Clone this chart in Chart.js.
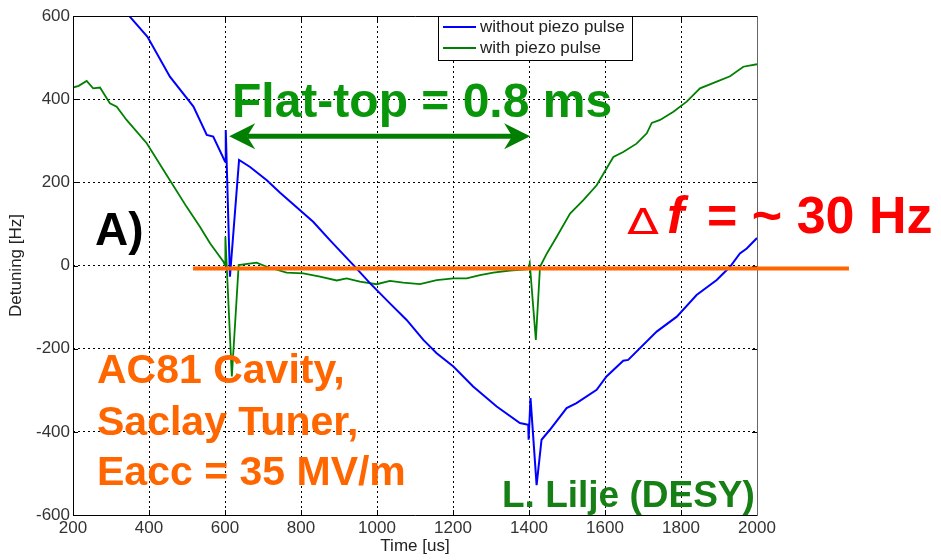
<!DOCTYPE html>
<html>
<head>
<meta charset="utf-8">
<script src="https://cdn.jsdelivr.net/npm/chart.js@4.4.0/dist/chart.umd.min.js"></script>
<style>
  html, body { margin: 0; padding: 0; background: #fff; }
  canvas { display: block; }
</style>
</head>
<body>
<canvas id="detuning" width="941" height="560"></canvas>
<script>
// detuning traces, time in us, detuning in Hz
const noPiezoT = [330, 348, 396, 455, 517, 552, 569, 600, 602, 613, 637, 666, 710, 745, 802, 832, 876, 938,
  982, 1034, 1078, 1122, 1157, 1201, 1253, 1315, 1376, 1398, 1399, 1404, 1420, 1433, 1455, 1499, 1525,
  1578, 1604, 1648, 1661, 1736, 1789, 1841, 1894, 1929, 1955, 1973, 2000]
const noPiezoHz = [630, 600, 550, 454, 382, 314, 310, 250, 326, -27, 254, 237, 205, 175, 129, 105, 61, 1,
  -43, -91, -131, -179, -211, -243, -291, -339, -379, -383, -419, -319, -528, -419, -395, -343, -331,
  -299, -267, -229, -227, -159, -123, -71, -35, -3, 29, 41, 66]

const piezoT = [200, 215, 236, 253, 271, 297, 315, 341, 394, 455, 499, 534, 561, 596, 600, 601, 618, 636,
  683, 710, 762, 806, 850, 894, 920, 955, 999, 1034, 1069, 1113, 1157, 1201, 1236, 1271, 1306, 1350,
  1398, 1402, 1418, 1429, 1447, 1473, 1508, 1543, 1578, 1622, 1648, 1683, 1710, 1723, 1745, 1780,
  1815, 1850, 1894, 1929, 1964, 2000]
const piezoHz = [428, 432, 444, 426, 428, 390, 382, 350, 294, 205, 141, 93, 53, 9, 1, 69, -267, 1,
  7, -3, -17, -19, -27, -36, -31, -39, -45, -37, -41, -45, -35, -31, -31, -23, -17, -12,
  -9, 5, -179, -3, 29, 69, 125, 157, 193, 261, 273, 293, 318, 343, 350, 370,
  394, 426, 442, 455, 478, 484]

const seriesNames = ["without piezo pulse", "with piezo pulse"]
const xTicks = [200, 400, 600, 800, 1000, 1200, 1400, 1600, 1800, 2000]
const yTicks = [-600, -400, -200, 0, 200, 400, 600]

// flat-top arrow and the detuning band line (us, Hz)
const flatTopSpan = [611, 1403]
const flatTopLevel = 311
const bandSpan = [516, 2242]
const bandLevel = -7

const FONT = "'Liberation Sans', Arial, sans-serif"
Chart.defaults.font.family = FONT

function pts(xs, ys) {
  return xs.map((t, i) => ({ x: t, y: ys[i] }))
}

function edgeHidden(min, max) {
  return c => (c.tick.value === min || c.tick.value === max) ? "rgba(0,0,0,0)" : "#000"
}

function arrowHead(ctx, tipX, y, dir) {
  ctx.beginPath()
  ctx.moveTo(tipX, y)
  ctx.lineTo(tipX - dir * 26, y - 13)
  ctx.lineTo(tipX - dir * 18, y)
  ctx.lineTo(tipX - dir * 26, y + 13)
  ctx.closePath()
  ctx.fill()
}

const overlay = {
  id: "overlay",
  afterDatasetsDraw(chart) {
    const { ctx, chartArea: a, scales: { x, y } } = chart
    ctx.save()

    // inner tick marks
    ctx.strokeStyle = "#000"
    ctx.lineWidth = 1
    ctx.beginPath()
    xTicks.forEach(v => {
      const px = Math.round(x.getPixelForValue(v)) + 0.5
      ctx.moveTo(px, a.bottom); ctx.lineTo(px, a.bottom - 5)
      ctx.moveTo(px, a.top); ctx.lineTo(px, a.top + 5)
    })
    yTicks.forEach(v => {
      const py = Math.round(y.getPixelForValue(v)) + 0.5
      ctx.moveTo(a.left, py); ctx.lineTo(a.left + 5, py)
      ctx.moveTo(a.right, py); ctx.lineTo(a.right - 5, py)
    })
    ctx.stroke()

    // axes box
    ctx.beginPath()
    ctx.moveTo(a.right, a.top + 0.5)
    ctx.lineTo(a.left + 0.5, a.top + 0.5)
    ctx.lineTo(a.left + 0.5, a.bottom + 0.5)
    ctx.lineTo(a.right, a.bottom + 0.5)
    ctx.stroke()
    ctx.strokeStyle = "#666"
    ctx.beginPath()
    ctx.moveTo(a.right + 0.5, a.top)
    ctx.lineTo(a.right + 0.5, a.bottom + 1)
    ctx.stroke()

    // legend
    ctx.fillStyle = "#fff"
    ctx.fillRect(438, 16, 194, 45)
    ctx.strokeStyle = "#000"
    ctx.strokeRect(438.5, 16.5, 194, 44)
    ctx.font = "17px " + FONT
    ctx.textBaseline = "middle"
    chart.data.datasets.forEach((ds, i) => {
      const ly = 27 + i * 21
      ctx.strokeStyle = ds.borderColor
      ctx.lineWidth = 2
      ctx.beginPath()
      ctx.moveTo(443, ly); ctx.lineTo(476, ly)
      ctx.stroke()
      ctx.fillStyle = "#222"
      ctx.fillText(ds.label, 480, ly)
    })

    // detuning band line
    ctx.strokeStyle = "#ff6600"
    ctx.lineWidth = 4
    ctx.beginPath()
    ctx.moveTo(x.getPixelForValue(bandSpan[0]), y.getPixelForValue(bandLevel))
    ctx.lineTo(x.getPixelForValue(bandSpan[1]), y.getPixelForValue(bandLevel))
    ctx.stroke()

    // flat-top arrow
    const ax1 = x.getPixelForValue(flatTopSpan[0])
    const ax2 = x.getPixelForValue(flatTopSpan[1])
    const ay = y.getPixelForValue(flatTopLevel)
    ctx.strokeStyle = "#007f00"
    ctx.fillStyle = "#007f00"
    ctx.lineWidth = 5
    ctx.beginPath()
    ctx.moveTo(ax1 + 18, ay); ctx.lineTo(ax2 - 18, ay)
    ctx.stroke()
    arrowHead(ctx, ax1, ay, -1)
    arrowHead(ctx, ax2, ay, 1)

    // notes
    ctx.textBaseline = "alphabetic"
    ctx.textAlign = "left"
    ctx.fillStyle = "#0a960a"
    ctx.font = "bold 48px " + FONT
    ctx.fillText("Flat-top = 0.8 ms", 232, 117)

    ctx.fillStyle = "#000"
    ctx.font = "bold 46px " + FONT
    ctx.fillText("A)", 95, 245)

    ctx.fillStyle = "#ff0000"
    ctx.save()
    ctx.translate(627, 234)
    ctx.scale(1.3, 1)
    ctx.font = "36px 'DejaVu Sans', sans-serif"
    ctx.fillText("\u0394", 0, 0)
    ctx.restore()
    ctx.font = "italic bold 52px " + FONT
    ctx.fillText("f", 667, 233)
    ctx.font = "bold 52px " + FONT
    ctx.fillText("= ~ 30 Hz", 707, 233)

    ctx.fillStyle = "#ff6600"
    ctx.font = "bold 41px " + FONT
    ctx.fillText("AC81 Cavity,", 97, 383)
    ctx.fillText("Saclay Tuner,", 97, 435)
    ctx.fillText("Eacc = 35 MV/m", 97, 485)

    ctx.fillStyle = "#168016"
    ctx.font = "bold 37px " + FONT
    ctx.fillText("L. Lilje (DESY)", 502, 507)

    ctx.restore()
  }
}

new Chart(document.getElementById("detuning"), {
  type: "scatter",
  data: {
    datasets: [
      { label: seriesNames[0], data: pts(noPiezoT, noPiezoHz), borderColor: "#0000ff", borderWidth: 2, showLine: true, pointRadius: 0, tension: 0 },
      { label: seriesNames[1], data: pts(piezoT, piezoHz), borderColor: "#008000", borderWidth: 1.8, showLine: true, pointRadius: 0, tension: 0 }
    ]
  },
  options: {
    responsive: false,
    animation: false,
    devicePixelRatio: 1,
    layout: { padding: { left: 0, top: 16, right: 184, bottom: 0 } },
    plugins: { legend: { display: false }, tooltip: { enabled: false } },
    scales: {
      x: {
        type: "linear",
        min: 200, max: 2000,
        afterFit: s => { s.height = 45 },
        afterBuildTicks: s => { s.ticks = xTicks.map(v => ({ value: v })) },
        ticks: { color: "#333", font: { size: 17 }, padding: 3, maxRotation: 0, autoSkip: false, callback: v => String(v) },
        grid: { color: edgeHidden(200, 2000), lineWidth: 1, drawTicks: false },
        border: { display: false, dash: [2, 3] },
        title: { display: true, text: "Time [us]", color: "#222", font: { size: 17 }, padding: { top: 0, bottom: 3 } }
      },
      y: {
        min: -600, max: 600,
        afterFit: s => { s.width = 73 },
        afterBuildTicks: s => { s.ticks = yTicks.map(v => ({ value: v })) },
        ticks: { color: "#333", font: { size: 17 }, padding: 3, callback: v => String(v) },
        grid: { color: edgeHidden(-600, 600), lineWidth: 1, drawTicks: false },
        border: { display: false, dash: [2, 3] },
        title: { display: true, text: "Detuning [Hz]", color: "#222", font: { size: 17 }, padding: { top: 6, bottom: 0 } }
      }
    }
  },
  plugins: [overlay]
})
</script>
</body>
</html>
